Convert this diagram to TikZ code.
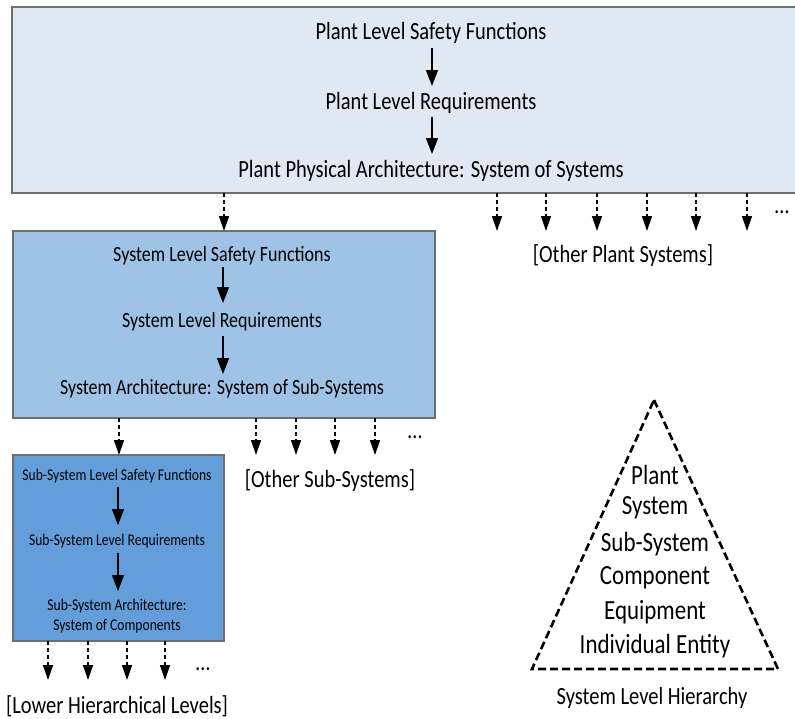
\documentclass[tikz,border=0pt]{standalone}
\usepackage{fontspec}
\setmainfont{Carlito}
\newfontfamily\tallfont[FakeStretch=0.83]{Carlito}
\usetikzlibrary{arrows.meta}
\definecolor{topfill}{RGB}{223,232,243}
\definecolor{midfill}{RGB}{158,195,230}
\definecolor{lowfill}{RGB}{100,158,218}
\definecolor{boxline}{RGB}{110,110,110}
\begin{document}
\begin{tikzpicture}[x=1pt,y=-1pt,
  panel/.style={draw=boxline,line width=1.2pt},
  lbl/.style={inner sep=0pt,anchor=center,text=black},
  flow/.style={-{Triangle[width=12pt,length=16pt]},line width=1.5pt},
  dflow/.style={-{Triangle[width=10pt,length=15pt]},line width=1.4pt,dash pattern=on 4pt off 3pt},
  big/.style={font=\tallfont\fontsize{24.7}{29}\selectfont},
  mid/.style={font=\tallfont\fontsize{21.7}{26}\selectfont},
  small/.style={font=\tallfont\fontsize{16.4}{19.5}\selectfont},
  tri/.style={font=\tallfont\fontsize{27.7}{32}\selectfont}]
\useasboundingbox (0,0) rectangle (795,718);
% boxes
\fill[white] (0,0) rectangle (795,718);
\draw[panel,fill=topfill] (12,7) rectangle (800,193);
\draw[panel,fill=midfill] (13,231) rectangle (435,418);
\draw[panel,fill=lowfill] (13,455) rectangle (224,641);
% top box texts
\node[lbl,big] (p1) at (431,33) {Plant Level Safety Functions};
\node[lbl,big] (p2) at (431,103) {Plant Level Requirements};
\node[lbl,big] (p3) at (431,171) {Plant Physical Architecture: System of Systems};
\coordinate (p1b) at (432,48); \coordinate (p2t) at (432,86);
\coordinate (p2b) at (432,117); \coordinate (p3t) at (432,154);
\draw[flow] (p1b) -- (p2t);
\draw[flow] (p2b) -- (p3t);
% mid box texts
\node[lbl,mid] (s1) at (222,256) {System Level Safety Functions};
\node[lbl,mid] (s2) at (222,322) {System Level Requirements};
\node[lbl,mid] (s3) at (222,389) {System Architecture: System of Sub-Systems};
\coordinate (s1b) at (223,267); \coordinate (s2t) at (223,303);
\coordinate (s2b) at (223,336); \coordinate (s3t) at (223,374);
\draw[flow] (s1b) -- (s2t);
\draw[flow] (s2b) -- (s3t);
% low box texts
\node[lbl,small] (u1) at (117,476) {Sub-System Level Safety Functions};
\node[lbl,small] (u2) at (117,541) {Sub-System Level Requirements};
\node[lbl,small,align=center] (u3) at (117,616) {Sub-System Architecture:\\System of Components};
\coordinate (u1b) at (118,487); \coordinate (u2t) at (118,525);
\coordinate (u2b) at (118,553); \coordinate (u3t) at (118,591);
\draw[flow] (u1b) -- (u2t);
\draw[flow] (u2b) -- (u3t);
% dashed arrows from top box
\coordinate (t0) at (224,193); \coordinate (m0) at (224,231);
\draw[dflow] (t0) -- (m0);
\foreach \x in {497,546,597,647,696,747}{
  \coordinate (ta\x) at (\x,193); \coordinate (tb\x) at (\x,231);
  \draw[dflow] (ta\x) -- (tb\x);}
\node[lbl,big] (dots1) at (782,212) {\ldots};
\node[lbl,big] (ops) at (623,256) {[Other Plant Systems]};
% dashed arrows from mid box
\coordinate (m1) at (119,418); \coordinate (l0) at (119,455);
\draw[dflow] (m1) -- (l0);
\foreach \x in {256,296,335,375}{
  \coordinate (ma\x) at (\x,418); \coordinate (mb\x) at (\x,455);
  \draw[dflow] (ma\x) -- (mb\x);}
\node[lbl,big] (dots2) at (415,437) {\ldots};
\node[lbl,big] (oss) at (330,481) {[Other Sub-Systems]};
% dashed arrows from low box
\foreach \x in {48,88,127,165}{
  \coordinate (la\x) at (\x,641); \coordinate (lb\x) at (\x,680);
  \draw[dflow] (la\x) -- (lb\x);}
\node[lbl,big] (dots3) at (203,669) {\ldots};
\node[lbl,big] (lhl) at (117,706) {[Lower Hierarchical Levels]};
% triangle
\coordinate (ta) at (654,400); \coordinate (tl) at (532,669); \coordinate (tr) at (778,669);
\draw[line width=2.6pt,dash pattern=on 8pt off 4pt] (ta) -- (tr) -- (tl) -- cycle;
\node[lbl,tri] (h1) at (655,475) {Plant};
\node[lbl,tri] (h2) at (655,508) {System};
\node[lbl,tri] (h3) at (655,544) {Sub-System};
\node[lbl,tri] (h4) at (655,578) {Component};
\node[lbl,tri] (h5) at (655,612) {Equipment};
\node[lbl,tri] (h6) at (655,646) {Individual Entity};
\node[lbl,big] (slh) at (652,698) {System Level Hierarchy};
\end{tikzpicture}
\end{document}
